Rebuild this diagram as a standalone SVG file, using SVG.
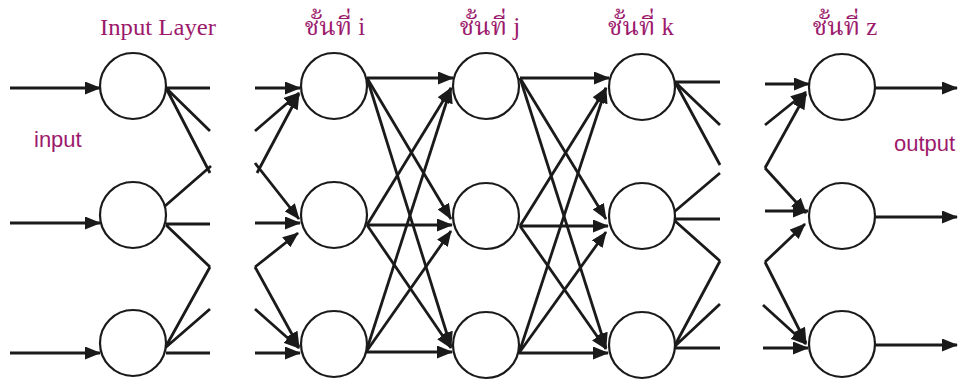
<svg xmlns="http://www.w3.org/2000/svg" width="958" height="381" viewBox="0 0 958 381">
<style>
.nd{fill:#fff;stroke:#1a1a1a;stroke-width:2.2}
.ln{fill:none;stroke:#1a1a1a;stroke-width:2.8;stroke-linecap:butt}
.ar{marker-end:url(#ah)}
.ttl{font-family:"Liberation Serif","Noto Serif Thai","Noto Sans Thai","Noto Sans",serif;font-size:23px;fill:#9c1a6c;text-anchor:middle}
.th{font-size:25px}
.lbl{font-family:"Liberation Sans",Arial,sans-serif;font-size:22px;fill:#9c1a6c}
</style>
<defs>
<marker id="ah" viewBox="0 0 16 13" markerWidth="16" markerHeight="13" refX="15" refY="6.5" orient="auto" markerUnits="userSpaceOnUse">
<path d="M0,0 L16,6.5 L0,13 Z" fill="#1a1a1a"/>
</marker>
</defs>
<rect width="958" height="381" fill="#fff"/>
<g id="connectors">
<path class="ln ar" d="M10,88 H100"/>
<path class="ln ar" d="M10,223 H100"/>
<path class="ln ar" d="M10,353 H100"/>
<path class="ln" d="M166,88 H210 M166,88 L210,131 M166,88 L210,173 M165,206 L211,166 M166,224 H210 M166,225 L210,267 M165,348 L210,267 M165,348 L210,309 M166,353 H210"/>
<path class="ln ar" d="M255,88 H300"/>
<path class="ln ar" d="M255,131 L299,93"/>
<path class="ln ar" d="M257,173 L299,94"/>
<path class="ln ar" d="M255,163 L299,219"/>
<path class="ln ar" d="M255,223 H300"/>
<path class="ln ar" d="M255,267 L298,233"/>
<path class="ln ar" d="M255,267 L299,347"/>
<path class="ln ar" d="M255,309 L299,348"/>
<path class="ln ar" d="M255,353 H300"/>
<path class="ln ar" d="M367,78 H453"/>
<path class="ln ar" d="M367,78 L451,219"/>
<path class="ln ar" d="M367,78 L451,347"/>
<path class="ln ar" d="M367,225 L451,88"/>
<path class="ln ar" d="M367,225 H452"/>
<path class="ln ar" d="M367,225 L451,348"/>
<path class="ln ar" d="M366,352 L451,88"/>
<path class="ln ar" d="M366,352 L451,231"/>
<path class="ln ar" d="M366,352 H452"/>
<path class="ln ar" d="M520,78 H609"/>
<path class="ln ar" d="M520,78 L606,219"/>
<path class="ln ar" d="M520,78 L606,348"/>
<path class="ln ar" d="M520,226 L606,88"/>
<path class="ln ar" d="M520,226 H608"/>
<path class="ln ar" d="M520,226 L606,349"/>
<path class="ln ar" d="M519,353 L606,88"/>
<path class="ln ar" d="M519,353 L606,232"/>
<path class="ln ar" d="M519,353 H608"/>
<path class="ln" d="M675,82 H720 M675,82 L720,125 M675,82 L720,165 M674,212 L720,173 M675,219 H720 M675,221 L720,261 M674,347 L720,261 M674,347 L720,304 M675,348 H720"/>
<path class="ln ar" d="M765,84 H809"/>
<path class="ln ar" d="M765,125 L806,92"/>
<path class="ln ar" d="M765,168 L806,94"/>
<path class="ln ar" d="M765,168 L806,213"/>
<path class="ln ar" d="M765,211 H808"/>
<path class="ln ar" d="M765,262 L805,224"/>
<path class="ln ar" d="M765,262 L806,343"/>
<path class="ln ar" d="M763,305 L806,344"/>
<path class="ln ar" d="M763,348 H808"/>
<path class="ln ar" d="M875,88 H957"/>
<path class="ln ar" d="M875,217 H957"/>
<path class="ln ar" d="M875,345 H957"/>
</g>
<g id="in1"><circle class="nd" cx="133" cy="86" r="33"/></g>
<g id="in2"><circle class="nd" cx="133" cy="215" r="33"/></g>
<g id="in3"><circle class="nd" cx="133" cy="343" r="33"/></g>
<g id="i1"><circle class="nd" cx="334" cy="86" r="33"/></g>
<g id="i2"><circle class="nd" cx="334" cy="215" r="33"/></g>
<g id="i3"><circle class="nd" cx="334" cy="344" r="33"/></g>
<g id="j1"><circle class="nd" cx="486" cy="86" r="33"/></g>
<g id="j2"><circle class="nd" cx="486" cy="216" r="33"/></g>
<g id="j3"><circle class="nd" cx="486" cy="345" r="33"/></g>
<g id="k1"><circle class="nd" cx="642" cy="87" r="33"/></g>
<g id="k2"><circle class="nd" cx="642" cy="216" r="33"/></g>
<g id="k3"><circle class="nd" cx="642" cy="345" r="33"/></g>
<g id="z1"><circle class="nd" cx="842" cy="87" r="33"/></g>
<g id="z2"><circle class="nd" cx="842" cy="216" r="33"/></g>
<g id="z3"><circle class="nd" cx="842" cy="344" r="33"/></g>
<g id="labels">
<text class="ttl" x="158" y="35" textLength="116" lengthAdjust="spacingAndGlyphs">Input Layer</text>
<text class="ttl th" x="335" y="35">ชั้นที่ i</text>
<text class="ttl th" x="490" y="35">ชั้นที่ j</text>
<text class="ttl th" x="641" y="35">ชั้นที่ k</text>
<text class="ttl th" x="845" y="35">ชั้นที่ z</text>
<text class="lbl" x="34" y="147">input</text>
<text class="lbl" x="894" y="151">output</text>
</g>
</svg>
